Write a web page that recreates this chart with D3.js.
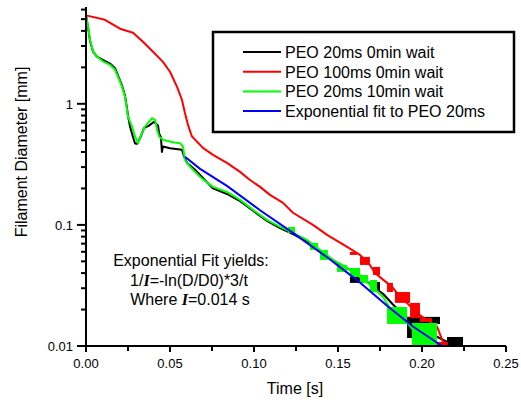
<!DOCTYPE html>
<html>
<head>
<meta charset="utf-8">
<script src="https://cdn.jsdelivr.net/npm/d3@7"></script>
<style>
  body { margin: 0; background: #fff; }
  text { font-family: Arial, "Liberation Sans", sans-serif; fill: #000; }
</style>
</head>
<body>
<div id="chart"></div>
<script>
// time [s], diameter [mm]
var peo20 = [
    [0, 5.37], [0.0012, 4.3], [0.0024, 3.3], [0.0042, 2.7], [0.0065, 2.45],
    [0.0101, 2.3], [0.0143, 2.15], [0.0173, 1.97], [0.0190, 1.72], [0.0214, 1.42],
    [0.0232, 1.17], [0.0244, 0.92], [0.0250, 0.80], [0.0262, 0.65], [0.0280, 0.53],
    [0.0292, 0.47], [0.0304, 0.467], [0.0327, 0.54], [0.0345, 0.63], [0.0375, 0.66],
    [0.0405, 0.71], [0.0429, 0.66], [0.0435, 0.57], [0.0446, 0.53], [0.0452, 0.40],
    [0.0458, 0.444], [0.0500, 0.430], [0.0571, 0.417], [0.0583, 0.37], [0.0601, 0.326],
    [0.0649, 0.285], [0.0756, 0.200], [0.0839, 0.180], [0.0917, 0.157], [0.0994, 0.131],
    [0.1077, 0.108], [0.1155, 0.094], [0.1232, 0.084], [0.1315, 0.073], [0.1393, 0.061],
    [0.1470, 0.051], [0.1554, 0.044], [0.1631, 0.038], [0.1708, 0.031], [0.1768, 0.027],
    [0.1827, 0.022], [0.1911, 0.017], [0.1970, 0.0155], [0.2060, 0.0125], [0.2149, 0.0108],
    [0.2244, 0.0100]
];
var peo100 = [
    [0, 5.37], [0.0113, 4.94], [0.0202, 4.17], [0.0280, 3.86], [0.0339, 3.25],
    [0.0399, 2.69], [0.0458, 2.22], [0.0500, 1.84], [0.0542, 1.38], [0.0571, 1.08],
    [0.0589, 0.84], [0.0607, 0.67], [0.0630, 0.54], [0.0696, 0.433], [0.0756, 0.379],
    [0.0839, 0.325], [0.0917, 0.274], [0.0976, 0.235], [0.1036, 0.206], [0.1095, 0.177],
    [0.1173, 0.152], [0.1232, 0.126], [0.1351, 0.100], [0.1435, 0.0827], [0.1554, 0.0658],
    [0.1631, 0.0565], [0.1690, 0.0467], [0.1720, 0.0401], [0.1792, 0.0332], [0.1827, 0.0302],
    [0.1869, 0.0254], [0.1910, 0.0227], [0.1970, 0.0187], [0.2030, 0.0164], [0.2090, 0.0144],
    [0.2125, 0.0108], [0.2149, 0.0102]
];
var peo20wait = [
    [0, 5.37], [0.0012, 4.35], [0.0024, 3.38], [0.0042, 2.71], [0.0065, 2.46],
    [0.0101, 2.24], [0.0143, 2.10], [0.0173, 1.91], [0.0190, 1.68], [0.0214, 1.39],
    [0.0232, 1.15], [0.0244, 0.89], [0.0250, 0.785], [0.0274, 0.649], [0.0292, 0.537],
    [0.0310, 0.473], [0.0333, 0.573], [0.0351, 0.649], [0.0393, 0.762], [0.0411, 0.738],
    [0.0423, 0.610], [0.0435, 0.537], [0.0458, 0.504], [0.0518, 0.482], [0.0560, 0.473],
    [0.0577, 0.444], [0.0589, 0.345], [0.0619, 0.302], [0.0679, 0.249], [0.0756, 0.206],
    [0.0839, 0.187], [0.0917, 0.161], [0.0994, 0.133], [0.1077, 0.110], [0.1155, 0.0962],
    [0.1232, 0.0859], [0.1315, 0.0752], [0.1393, 0.0621], [0.1470, 0.0514], [0.1554, 0.0441],
    [0.1571, 0.0425], [0.1631, 0.0372], [0.1708, 0.0307], [0.1768, 0.0254], [0.1827, 0.0187],
    [0.1887, 0.0174], [0.1946, 0.0136], [0.2030, 0.0112], [0.2089, 0.0100], [0.2270, 0.0100]
];
var expFit = [
    [0.0589, 0.365], [0.0679, 0.290], [0.0839, 0.210], [0.1036, 0.132], [0.1232, 0.086],
    [0.1435, 0.054], [0.1613, 0.035], [0.1792, 0.0215], [0.1946, 0.0145], [0.2119, 0.0100]
];

// noisy tail blocks: [t0, t1, vTop, vBottom]
var peo20Blocks = [
    [0.1571, 0.1649, 0.0372, 0.0332], [0.1690, 0.1750, 0.0338, 0.0279],
    [0.1911, 0.1970, 0.0174, 0.01165], [0.1911, 0.2107, 0.0174, 0.0152],
    [0.2149, 0.2244, 0.01187, 0.0100]
];
var peo100Blocks = [
    [0.1571, 0.1613, 0.0598, 0.0565], [0.1631, 0.1690, 0.0544, 0.0467],
    [0.1708, 0.1750, 0.0450, 0.0386], [0.1792, 0.1827, 0.0332, 0.0279],
    [0.1839, 0.1929, 0.0279, 0.0227], [0.1929, 0.1988, 0.0227, 0.0170],
    [0.1988, 0.2060, 0.0170, 0.0158], [0.2089, 0.2155, 0.0108, 0.0102]
];
var peo20waitBlocks = [
    [0.1202, 0.1244, 0.0962, 0.0859], [0.1333, 0.1381, 0.0710, 0.0621],
    [0.1393, 0.1440, 0.0621, 0.0514], [0.1494, 0.1554, 0.0467, 0.0409],
    [0.1571, 0.1631, 0.0441, 0.0372], [0.1631, 0.1679, 0.0386, 0.0332],
    [0.1690, 0.1732, 0.0351, 0.0279], [0.1792, 0.1911, 0.0210, 0.0152],
    [0.1940, 0.2089, 0.0155, 0.0100]
];

var seriesNames = ["PEO 20ms 0min wait", "PEO 100ms 0min wait", "PEO 20ms 10min wait", "Exponential fit to PEO 20ms"];
var seriesColors = ["#000000", "#ff0000", "#00ff00", "#0000ff"];
var xTicks = [0, 0.05, 0.10, 0.15, 0.20, 0.25];
var yMajorTicks = [0.01, 0.1, 1];

function init() {
    var w = 521;
    var h = 400;

    var svg = d3.select("#chart")
        .append("svg")
        .attr("width", w)
        .attr("height", h);

    var x = d3.scaleLinear().domain([0, 0.25]).range([86, 506]);
    var y = d3.scaleLog().domain([0.01, 6.3]).range([346, 7]);

    // minor y ticks 2..9 per decade
    var yMinor = [];
    [0.01, 0.1, 1].forEach(function(d) {
        for (var k = 2; k <= 9; k++) {
            if (d * k <= 6.3) yMinor.push(d * k);
        }
    });
    var xMinor = [0.025, 0.075, 0.125, 0.175, 0.225];

    var line = d3.line()
        .x(function(d) { return x(d[0]); })
        .y(function(d) { return y(d[1]); });

    var datasets = [
        { data: peo20, blocks: peo20Blocks },
        { data: peo100, blocks: peo100Blocks },
        { data: peo20wait, blocks: peo20waitBlocks },
        { data: expFit, blocks: [] }
    ];

    datasets.forEach(function(s, i) {
        svg.append("g").selectAll("rect")
            .data(s.blocks)
            .enter()
            .append("rect")
            .attr("x", function(d) { return x(d[0]); })
            .attr("y", function(d) { return y(d[2]); })
            .attr("width", function(d) { return x(d[1]) - x(d[0]); })
            .attr("height", function(d) { return y(d[3]) - y(d[2]); })
            .attr("fill", seriesColors[i]);

        svg.append("path")
            .datum(s.data)
            .attr("d", line)
            .attr("fill", "none")
            .attr("stroke", seriesColors[i])
            .attr("stroke-width", 2)
            .attr("stroke-linejoin", "round");
    });

    // axes
    var axisG = svg.append("g").attr("stroke", "#000").attr("stroke-width", 2);
    axisG.append("line")
        .attr("x1", x(0)).attr("x2", x(0))
        .attr("y1", y(6.3)).attr("y2", 352);
    axisG.append("line")
        .attr("x1", 77).attr("x2", x(0.25))
        .attr("y1", y(0.01)).attr("y2", y(0.01));

    axisG.selectAll(".ymaj")
        .data(yMajorTicks)
        .enter()
        .append("line")
        .attr("x1", 77).attr("x2", x(0))
        .attr("y1", function(d) { return y(d); })
        .attr("y2", function(d) { return y(d); });
    axisG.selectAll(".ymin")
        .data(yMinor)
        .enter()
        .append("line")
        .attr("x1", 81).attr("x2", x(0))
        .attr("y1", function(d) { return y(d); })
        .attr("y2", function(d) { return y(d); });
    axisG.selectAll(".xmaj")
        .data(xTicks)
        .enter()
        .append("line")
        .attr("x1", function(d) { return x(d); })
        .attr("x2", function(d) { return x(d); })
        .attr("y1", y(0.01)).attr("y2", y(0.01) + 6);
    axisG.selectAll(".xmin")
        .data(xMinor)
        .enter()
        .append("line")
        .attr("x1", function(d) { return x(d); })
        .attr("x2", function(d) { return x(d); })
        .attr("y1", y(0.01)).attr("y2", y(0.01) + 5);

    svg.selectAll(".xlab")
        .data(xTicks)
        .enter()
        .append("text")
        .attr("x", function(d) { return x(d); })
        .attr("y", 368)
        .attr("text-anchor", "middle")
        .attr("font-size", 13)
        .text(function(d) { return d.toFixed(2); });

    svg.selectAll(".ylab")
        .data(yMajorTicks)
        .enter()
        .append("text")
        .attr("x", 73)
        .attr("y", function(d) { return y(d) + 5; })
        .attr("text-anchor", "end")
        .attr("font-size", 13)
        .text(function(d) { return d; });

    svg.append("text")
        .attr("x", 295)
        .attr("y", 394)
        .attr("text-anchor", "middle")
        .attr("font-size", 16)
        .text("Time [s]");

    svg.append("text")
        .attr("transform", "translate(27,152) rotate(-90)")
        .attr("text-anchor", "middle")
        .attr("font-size", 16)
        .text("Filament Diameter [mm]");

    // legend
    svg.append("rect")
        .attr("x", 213).attr("y", 32)
        .attr("width", 301).attr("height", 100)
        .attr("fill", "#fff")
        .attr("stroke", "#000")
        .attr("stroke-width", 2.5);

    var leg = svg.selectAll(".leg")
        .data(seriesNames)
        .enter()
        .append("g")
        .attr("transform", function(d, i) { return "translate(0," + (52 + i * 19.7) + ")"; });
    leg.append("line")
        .attr("x1", 243).attr("x2", 281)
        .attr("stroke", function(d, i) { return seriesColors[i]; })
        .attr("stroke-width", 2);
    leg.append("text")
        .attr("x", 285)
        .attr("y", 6)
        .attr("font-size", 16)
        .text(function(d) { return d; });

    // annotation
    var ann = svg.append("text")
        .attr("text-anchor", "middle")
        .attr("font-size", 16);
    ann.append("tspan").attr("x", 191).attr("y", 266).text("Exponential Fit yields:");
    var l2 = ann.append("tspan").attr("x", 189).attr("y", 286);
    l2.append("tspan").text("1/");
    l2.append("tspan").attr("font-family", "'Liberation Serif', serif").attr("font-style", "italic").attr("font-weight", "bold").text("I");
    l2.append("tspan").text("=-ln(D/D0)*3/t");
    var l3 = ann.append("tspan").attr("x", 190).attr("y", 305);
    l3.append("tspan").text("Where ");
    l3.append("tspan").attr("font-family", "'Liberation Serif', serif").attr("font-style", "italic").attr("font-weight", "bold").text("I");
    l3.append("tspan").text("=0.014 s");
}
window.onload = init;
</script>
</body>
</html>
